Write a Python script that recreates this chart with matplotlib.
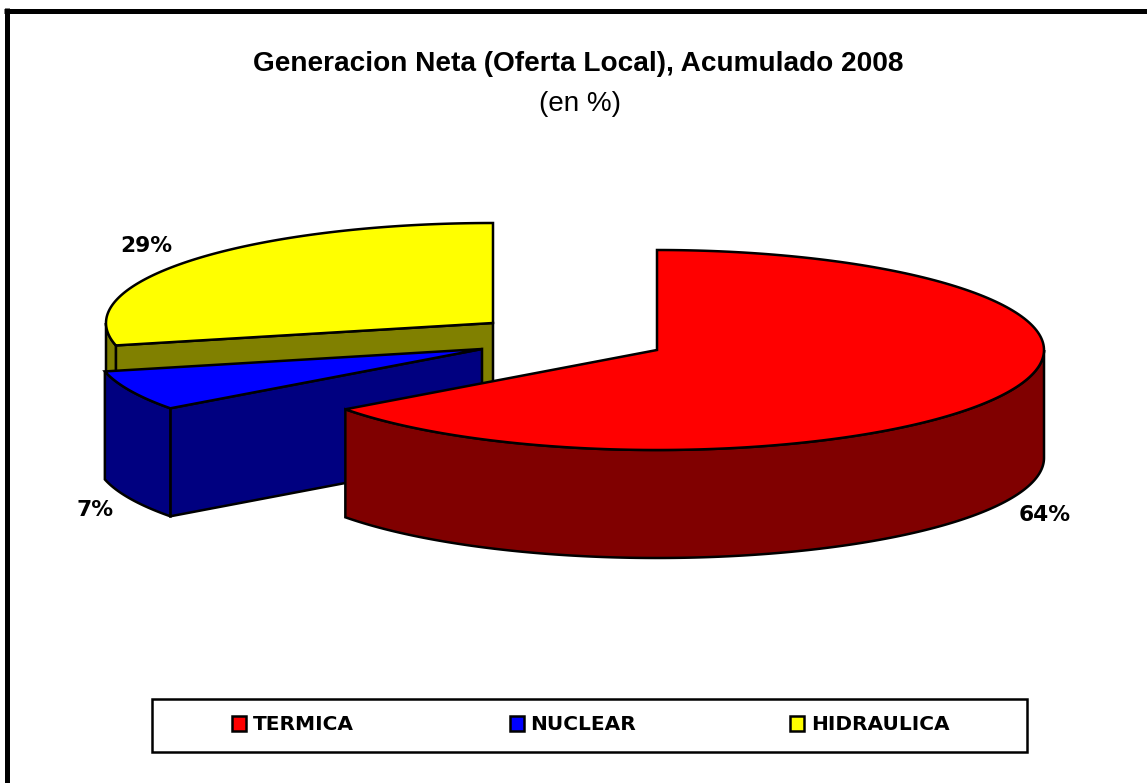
import numpy as np
import matplotlib
matplotlib.use("Agg")
import matplotlib.pyplot as plt
from matplotlib.patches import Polygon, Rectangle

plt.rcParams['font.family'] = ['DejaVu Sans']

categories = ["TERMICA", "NUCLEAR", "HIDRAULICA"]
values = [64.9, 6.5, 28.6]
value_labels = ["64%", "7%", "29%"]
top_colors = ["#ff0000", "#0000ff", "#ffff00"]
side_colors = ["#800000", "#000080", "#808000"]
title = "Generacion Neta (Oferta Local), Acumulado 2008"
subtitle = "(en %)"

W, H = 1147, 783
fig = plt.figure(figsize=(W / 100, H / 100), dpi=100, facecolor="white")
ax = fig.add_axes([0, 0, 1, 1])
ax.set_xlim(0, W)
ax.set_ylim(H, 0)
ax.axis("off")

# pie geometry
RX, RY, DEPTH = 387, 100, 108
CENTERS = [(657, 350), (482, 349), (493, 323)]
LW = 1.8


def arc(c, t0, t1, n=200):
    t = np.radians(np.linspace(t0, t1, n))
    return np.column_stack([c[0] + RX * np.sin(t), c[1] - RY * np.cos(t)])


def poly(pts, color, z):
    ax.add_patch(Polygon(pts, closed=True, facecolor=color, edgecolor="black",
                         linewidth=LW, joinstyle="miter", zorder=z))


bounds = 360 * np.cumsum([0] + values) / sum(values)
down = np.array([0, DEPTH])

for i in [2, 1, 0]:  # back to front
    c, t0, t1 = CENTERS[i], bounds[i], bounds[i + 1]
    z = 10 + (2 - i) * 10
    a = arc(c, t0, t1)
    # radial wall facing the viewer
    if i != 0:
        e = a[0]
        poly([c, e, e + down, np.array(c) + down], side_colors[i], z)
    # outer rim, visible only on the lower half of the ellipse
    lo, hi = max(t0, 90), min(t1, 270)
    if hi > lo:
        r = arc(c, lo, hi)
        poly(np.vstack([r, (r + down)[::-1]]), side_colors[i], z + 1)
    # top face
    poly(np.vstack([[c], a]), top_colors[i], z + 2)

# percentage labels
label_pos = [(1045, 515), (95, 510), (146, 246)]
for s, (x, y) in zip(value_labels, label_pos):
    ax.text(x, y, s, ha="center", va="center", fontsize=15.7,
            fontweight="bold", color="black", zorder=50)

# titles
narrow = ['Liberation Sans Narrow', 'Liberation Sans', 'DejaVu Sans']
ax.text(578, 64, title, ha="center", va="center", fontsize=20.2, fontweight="bold",
        family=narrow, zorder=50)
ax.text(580, 104, subtitle, ha="center", va="center", fontsize=20, family=narrow, zorder=50)

# legend
ax.add_patch(Rectangle((152, 699), 875, 53, facecolor="white", edgecolor="black",
                       linewidth=LW, zorder=40))
swatch_x = [232, 510, 790]
text_x = [253, 530, 811]
for name, col, x, tx in zip(categories, top_colors, swatch_x, text_x):
    ax.add_patch(Rectangle((x, 716), 14, 15, facecolor=col, edgecolor="black",
                           linewidth=1.8, zorder=41))
    ax.text(tx, 724.5, name, ha="left", va="center", fontsize=14.5,
            fontweight="bold", zorder=42)

# chart frame: top and left sides only
ax.plot([6.5, 6.5], [8, H], color="black", lw=3.6, solid_capstyle="butt", zorder=60)
ax.plot([4, W], [10.5, 10.5], color="black", lw=3.6, solid_capstyle="butt", zorder=60)

fig.savefig("out.png", dpi=100, facecolor="white")
